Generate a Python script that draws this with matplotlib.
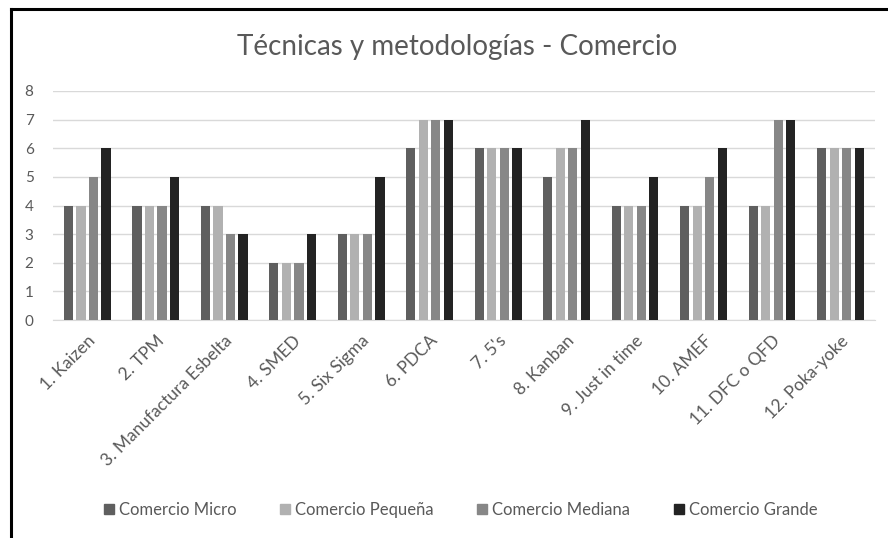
import numpy as np
import matplotlib
matplotlib.use("Agg")
import matplotlib.pyplot as plt
from matplotlib.lines import Line2D

plt.rcParams['font.family'] = ['Lato', 'DejaVu Sans']

categorias = ["1. Kaizen", "2. TPM", "3. Manufactura Esbelta", "4. SMED",
              "5. Six Sigma", "6. PDCA", "7. 5's", "8. Kanban",
              "9. Just in time", "10. AMEF", "11. DFC o QFD", "12. Poka-yoke"]
micro = [4, 4, 4, 2, 3, 6, 6, 5, 4, 4, 4, 6]
pequena = [4, 4, 4, 2, 3, 7, 6, 6, 4, 4, 4, 6]
mediana = [5, 4, 3, 2, 3, 7, 6, 6, 4, 5, 7, 6]
grande = [6, 5, 3, 3, 5, 7, 6, 7, 5, 6, 7, 6]

series = ["Comercio Micro", "Comercio Pequeña", "Comercio Mediana", "Comercio Grande"]
colores = ["#5f5f5f", "#b1b1b1", "#878787", "#232323"]
datos = [micro, pequena, mediana, grande]

fig = plt.figure(figsize=(8.88, 5.38), dpi=100)
ax = fig.add_axes([0.0597, 0.405, 0.9253, 0.426])

x = np.arange(len(categorias))
paso = 0.183
ancho = 0.135
for i, (vals, col) in enumerate(zip(datos, colores)):
    ax.bar(x + (i - 1.5) * paso, vals, ancho, color=col, zorder=3)

ax.set_xlim(-0.5, len(categorias) - 0.5)
ax.set_ylim(0, 8)
ax.set_yticks(range(0, 9))
ax.grid(axis='y', color='#d9d9d9', linewidth=1, zorder=0)
for s in ['top', 'right', 'left']:
    ax.spines[s].set_visible(False)
ax.spines['bottom'].set_color('#d9d9d9')
ax.tick_params(axis='both', length=0, colors='#595959', labelsize=11)
ax.tick_params(axis='y', pad=14)
ax.set_xticks(x)
ax.set_xticklabels(categorias, rotation=45, ha='right', rotation_mode='anchor',
                   fontsize=12.5)
ax.tick_params(axis='x', pad=9)

fig.text(0.515, 0.913, "Técnicas y metodologías - Comercio", ha='center', va='center',
         fontsize=20, color='#595959')

handles = [Line2D([], [], marker='s', linestyle='none', markersize=7.5, color=c) for c in colores]
fig.legend(handles, series, loc='center', bbox_to_anchor=(0.517, 0.052), ncol=4,
           frameon=False, fontsize=12, labelcolor='#595959', handletextpad=0.1,
           columnspacing=2.4, handlelength=1.0)

# marco negro (borde de la captura)
fig.add_artist(Line2D([0.0124, 0.0124], [0, 0.983], color='black', linewidth=2.2,
                      transform=fig.transFigure))
fig.add_artist(Line2D([0.0124, 1.0], [0.983, 0.983], color='black', linewidth=2.2,
                      transform=fig.transFigure))

fig.savefig("out.png", dpi=100)
